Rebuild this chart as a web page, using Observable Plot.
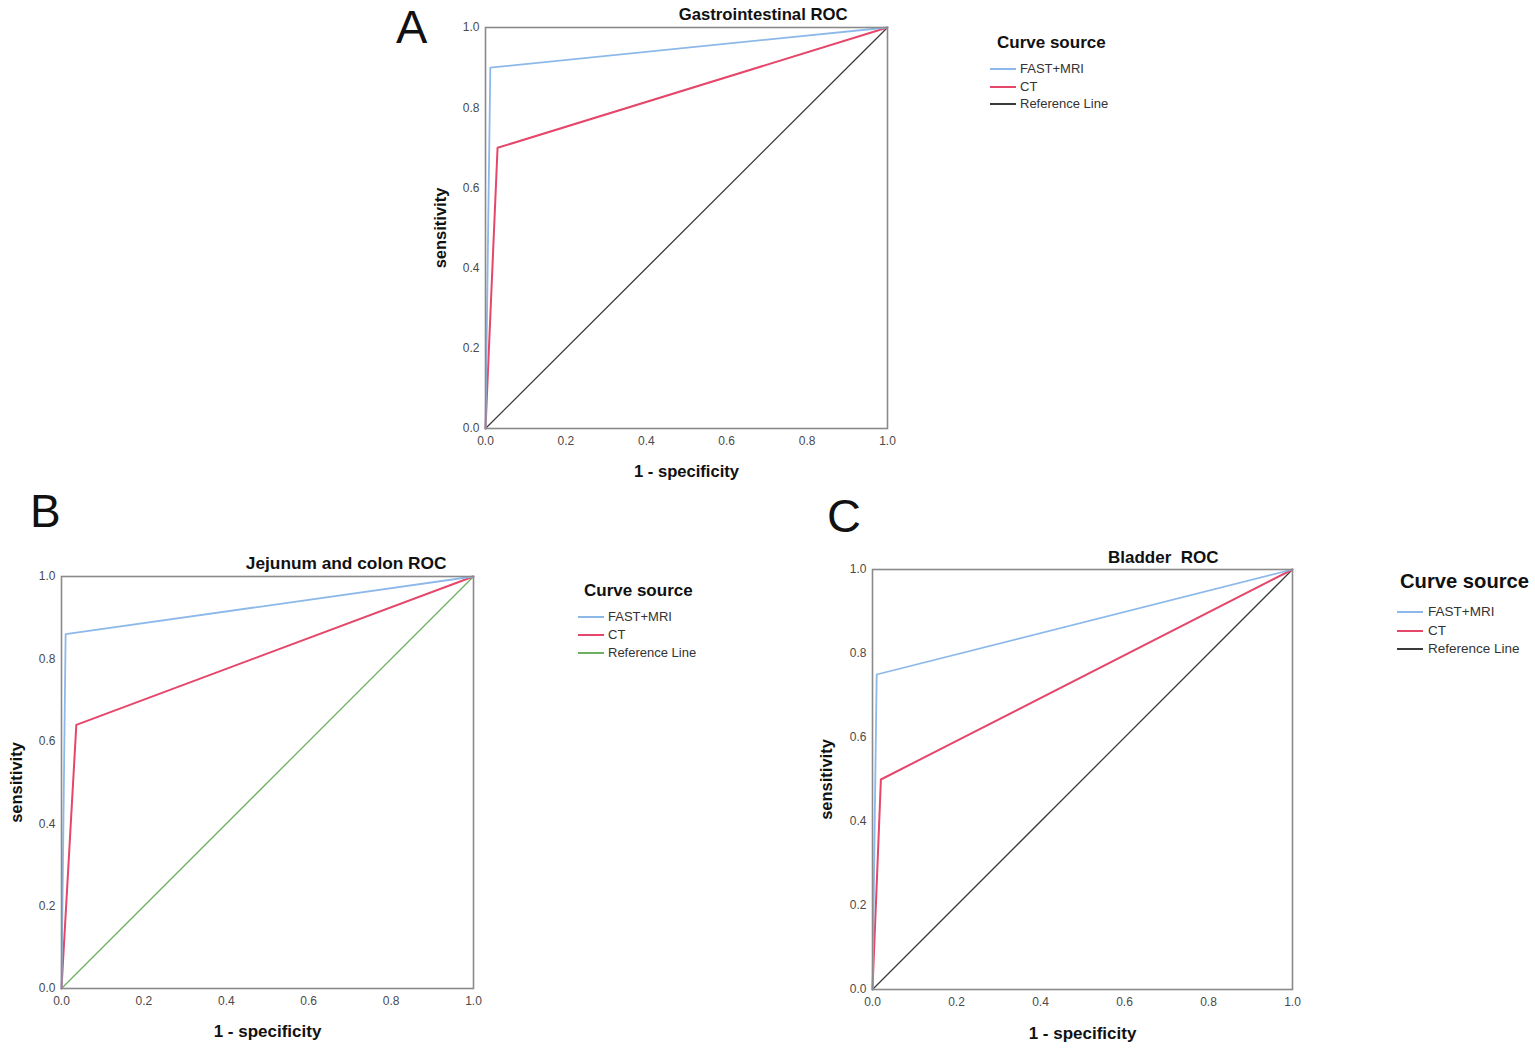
<!DOCTYPE html>
<html><head><meta charset="utf-8">
<script src="https://cdn.jsdelivr.net/npm/d3@7"></script>
<script src="https://cdn.jsdelivr.net/npm/@observablehq/plot@0.6"></script>
<style>
body{margin:0;background:#fff;font-family:"Liberation Sans",Arial,sans-serif;}
#root{position:relative;width:1535px;height:1055px;overflow:hidden;background:#fff;}
.abs{position:absolute;white-space:nowrap;color:#111;}
</style></head>
<body><div id="root"></div>
<script>
// ---- data ----
const panelLetters = ["A", "B", "C"];
const titles = ["Gastrointestinal ROC", "Jejunum and colon ROC", "Bladder\u00a0 ROC"];
const seriesNames = ["FAST+MRI", "CT", "Reference Line"];
const ticks = [0, 0.2, 0.4, 0.6, 0.8, 1.0];
const xLabel = "1 - specificity";
const yLabel = "sensitivity";
const legendTitle = "Curve source";

// panel A: Gastrointestinal
const aFastX = [0, 0.012, 1], aFastY = [0, 0.90, 1];
const aCtX = [0, 0.03, 1], aCtY = [0, 0.70, 1];
// panel B: Jejunum and colon
const bFastX = [0, 0.01, 1], bFastY = [0, 0.86, 1];
const bCtX = [0, 0.036, 1], bCtY = [0, 0.64, 1];
// panel C: Bladder
const cFastX = [0, 0.01, 1], cFastY = [0, 0.75, 1];
const cCtX = [0, 0.02, 1], cCtY = [0, 0.50, 1];
// reference diagonal
const refX = [0, 1], refY = [0, 1];

const colors = {
  fast: "#8db9ea",
  ct: "#e5466a",
  refDark: "#3a3a3a",
  refGreen: "#6db160"
};

// ---- layout ----
const layout = [
  {left: 485, top: 27, w: 402, h: 401, ref: colors.refDark, titleDx: -40, titleDy: -13,
   xLabDy: 43, yLabDx: -45, tickFs: 12, labFs: 16.6, yLabFs: 16.5, titleFs: 16.7,
   letter: {x: 396, y: 3, fs: 47},
   legend: {x: 990, y: 32, titleFs: 17, itemFs: 13, lineW: 26, gap: 4, rowH: 17.5, titleX: 7, itemOff: 15}},
  {left: 61, top: 576, w: 412, h: 412, ref: colors.refGreen, titleDx: -27, titleDy: -13,
   xLabDy: 43, yLabDx: -45, tickFs: 12, labFs: 17, yLabFs: 16.5, titleFs: 17.3,
   letter: {x: 30, y: 488, fs: 46},
   legend: {x: 578, y: 580, titleFs: 17, itemFs: 13, lineW: 26, gap: 4, rowH: 18, titleX: 6, itemOff: 15}},
  {left: 872, top: 569, w: 420, h: 420, ref: colors.refDark, titleDx: -74, titleDy: -12,
   xLabDy: 44, yLabDx: -46, tickFs: 12, labFs: 17, yLabFs: 16.5, titleFs: 17,
   letter: {x: 827, y: 492, fs: 47},
   legend: {x: 1397, y: 568, titleFs: 20.2, itemFs: 13.5, lineW: 26, gap: 5, rowH: 18.5, titleX: 3, itemOff: 18}}
];

const panelData = [
  {fx: aFastX, fy: aFastY, cx: aCtX, cy: aCtY},
  {fx: bFastX, fy: bFastY, cx: bCtX, cy: bCtY},
  {fx: cFastX, fy: cFastY, cx: cCtX, cy: cCtY}
];

const root = document.getElementById("root");
const M = {l: 60, t: 40, r: 20, b: 60};

function pts(xs, ys) { return xs.map((x, i) => ({x, y: ys[i]})); }

panelData.forEach((pd, i) => {
  const L = layout[i];
  const fast = pts(pd.fx, pd.fy), ct = pts(pd.cx, pd.cy), ref = pts(refX, refY);
  const chart = Plot.plot({
    width: L.w + M.l + M.r,
    height: L.h + M.t + M.b,
    marginLeft: M.l, marginRight: M.r, marginTop: M.t, marginBottom: M.b,
    style: {fontFamily: '"Liberation Sans", Arial, sans-serif', fontSize: L.tickFs + "px", color: "#4a4a4a", background: "transparent", overflow: "visible"},
    x: {domain: [0, 1], label: null},
    y: {domain: [0, 1], label: null},
    marks: [
      Plot.line(ref, {x: "x", y: "y", stroke: L.ref, strokeWidth: 1.3}),
      Plot.line(ct, {x: "x", y: "y", stroke: colors.ct, strokeWidth: 2}),
      Plot.line(fast, {x: "x", y: "y", stroke: colors.fast, strokeWidth: 1.8}),
      Plot.frame({stroke: "#8a8a8a", strokeWidth: 1.6}),
      Plot.axisX({ticks, tickFormat: d3.format(".1f"), tickSize: 0, tickPadding: 8, label: null}),
      Plot.axisY({ticks, tickFormat: d3.format(".1f"), tickSize: 0, tickPadding: 6, label: null}),
      Plot.text([titles[i]], {frameAnchor: "top-right", textAnchor: "end", lineAnchor: "middle",
        dx: L.titleDx, dy: L.titleDy,
        text: d => d, fontSize: L.titleFs, fontWeight: "bold", fill: "#111"}),
      Plot.text([xLabel], {frameAnchor: "bottom", textAnchor: "middle", lineAnchor: "middle",
        dy: L.xLabDy, text: d => d,
        fontSize: L.labFs, fontWeight: "bold", fill: "#111"}),
      Plot.text([yLabel], {frameAnchor: "left", textAnchor: "middle", lineAnchor: "middle",
        dx: L.yLabDx, rotate: -90, text: d => d,
        fontSize: L.yLabFs, fontWeight: "bold", fill: "#111"})
    ]
  });
  const wrap = document.createElement("div");
  wrap.className = "abs";
  wrap.style.left = (L.left - M.l) + "px";
  wrap.style.top = (L.top - M.t) + "px";
  wrap.appendChild(chart);
  root.appendChild(wrap);

  // panel letter
  const let_ = document.createElement("div");
  let_.className = "abs";
  let_.style.left = L.letter.x + "px";
  let_.style.top = L.letter.y + "px";
  let_.style.fontSize = L.letter.fs + "px";
  let_.style.lineHeight = "1";
  let_.textContent = panelLetters[i];
  root.appendChild(let_);

  // legend
  const lg = L.legend;
  const lt = document.createElement("div");
  lt.className = "abs";
  lt.style.left = (lg.x + lg.titleX) + "px";
  lt.style.top = lg.y + "px";
  lt.style.fontSize = lg.titleFs + "px";
  lt.style.fontWeight = "bold";
  lt.style.lineHeight = "1.3";
  lt.textContent = legendTitle;
  root.appendChild(lt);
  const sc = [colors.fast, colors.ct, L.ref];
  seriesNames.forEach((name, k) => {
    const cy = lg.y + lg.titleFs * 1.3 + lg.itemOff + k * lg.rowH;
    const ln = document.createElement("div");
    ln.className = "abs";
    ln.style.left = lg.x + "px";
    ln.style.top = (cy - 1) + "px";
    ln.style.width = lg.lineW + "px";
    ln.style.height = "2px";
    ln.style.background = sc[k];
    root.appendChild(ln);
    const tx = document.createElement("div");
    tx.className = "abs";
    tx.style.left = (lg.x + lg.lineW + lg.gap) + "px";
    tx.style.top = (cy - lg.itemFs * 0.6) + "px";
    tx.style.fontSize = lg.itemFs + "px";
    tx.style.lineHeight = "1.2";
    tx.style.color = "#333";
    tx.textContent = name;
    root.appendChild(tx);
  });
});
</script></body></html>
